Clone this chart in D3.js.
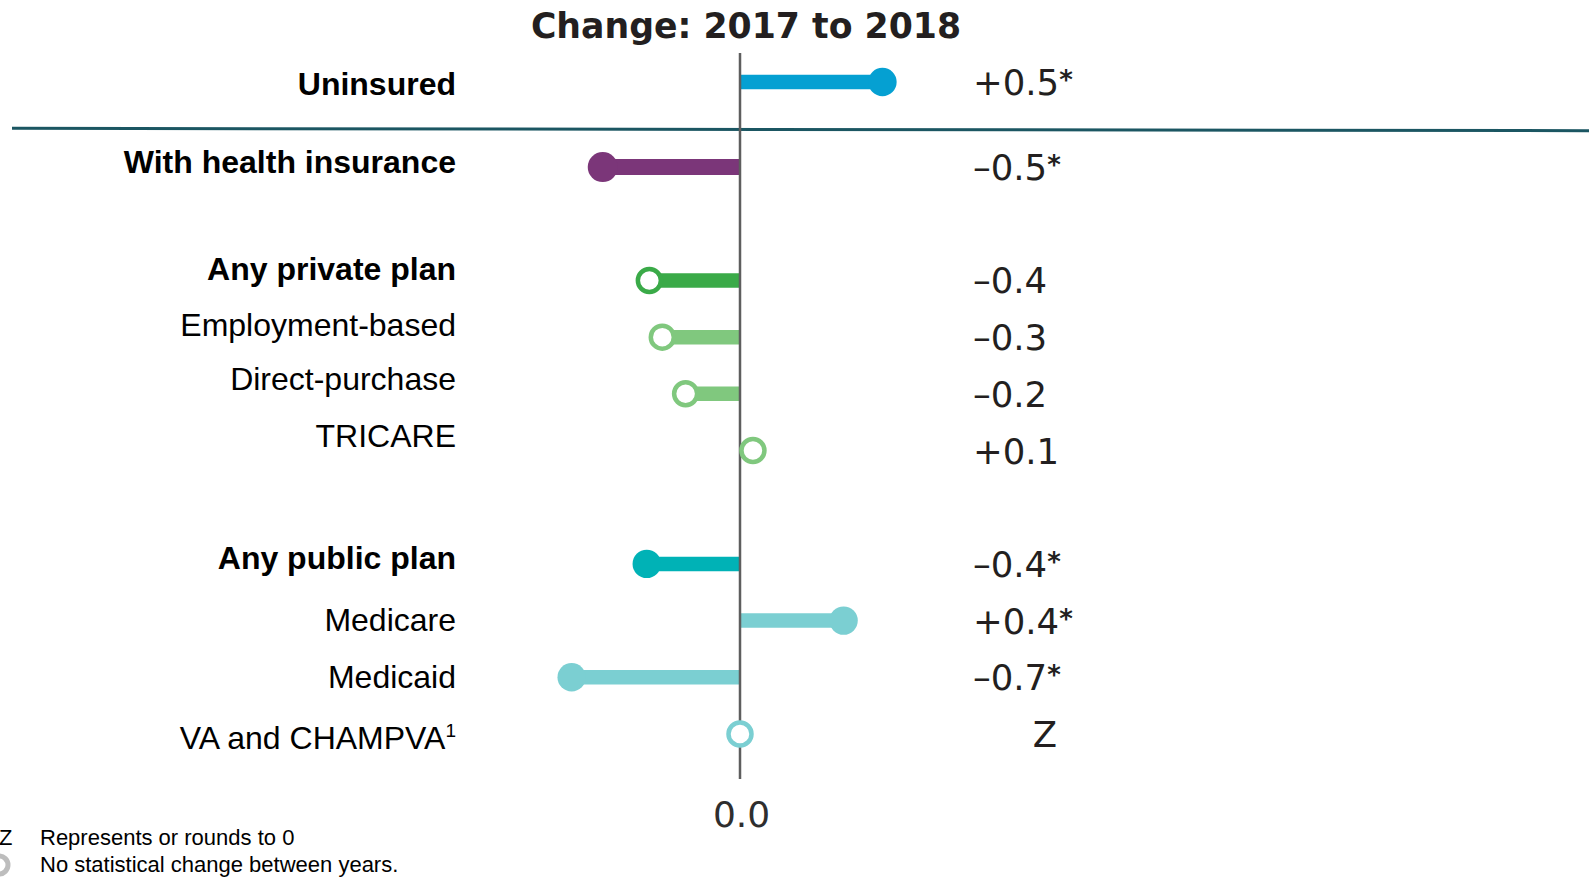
<!DOCTYPE html>
<html>
<head>
<meta charset="utf-8">
<script src="https://cdn.jsdelivr.net/npm/d3@7"></script>
<style>
  html, body { margin: 0; padding: 0; background: #ffffff; overflow: hidden; }
  svg { display: block; }
</style>
</head>
<body>
<svg id="chart" width="1589" height="877"></svg>
<script>
// ---------------- DATA ----------------
const title = "Change: 2017 to 2018";
const categories = ["Uninsured", "With health insurance", "Any private plan", "Employment-based",
  "Direct-purchase", "TRICARE", "Any public plan", "Medicare", "Medicaid", "VA and CHAMPVA"];
const categoryNotes = ["", "", "", "", "", "", "", "", "", "1"];
const changes = [0.55, -0.53, -0.35, -0.30, -0.21, 0.05, -0.36, 0.40, -0.65, 0.0];
const changeLabels = ["+0.5", "–0.5", "–0.4", "–0.3", "–0.2", "+0.1", "–0.4", "+0.4", "–0.7", "Z"];
const significant = [true, true, false, false, false, false, true, true, true, false];
const headerRows = [true, true, true, false, false, false, true, false, false, false];
const rowSlots = [0, 1.5, 3.5, 4.5, 5.5, 6.5, 8.5, 9.5, 10.5, 11.5];
const axisTicks = [0];
const footnoteSymbols = ["Z", "○"];
const footnoteTexts = ["Represents or rounds to 0", "No statistical change between years."];

// ---------------- STYLE / LAYOUT ----------------
const colors = ["#05a0d2", "#7b3679", "#3aaa48", "#80c87e", "#80c87e", "#80c87e",
  "#00b2b6", "#7bcfd2", "#7bcfd2", "#7bcfd2"];
const labelNudge = [1, -6, -12, -13, -15, -15, -6, -1, -1, 3];

const svg = d3.select("#chart");
const x = d3.scaleLinear().domain([-1, 1]).range([481, 999]);
const y = d3.scaleLinear().domain([0, 11.5]).range([82, 734]);

const rows = categories.map((c, i) => ({
  name: c, note: categoryNotes[i], value: changes[i], label: changeLabels[i],
  sig: significant[i], header: headerRows[i], slot: rowSlots[i], color: colors[i],
  nudge: labelNudge[i]
}));

// Title
svg.append("text")
  .attr("x", 746).attr("y", 38)
  .attr("text-anchor", "middle")
  .attr("font-family", "'DejaVu Sans', sans-serif")
  .attr("font-weight", "bold")
  .attr("font-size", 34.7)
  .attr("fill", "#231f20")
  .text(title);

// Separator line
svg.append("line")
  .attr("x1", 12).attr("y1", 128.3)
  .attr("x2", 1589).attr("y2", 130.7)
  .attr("stroke", "#1b5662").attr("stroke-width", 3);

// Stems
svg.append("g").selectAll("line").data(rows).join("line")
  .attr("x1", x(0)).attr("x2", d => x(d.value))
  .attr("y1", d => y(d.slot)).attr("y2", d => y(d.slot))
  .attr("stroke", d => d.color)
  .attr("stroke-width", d => d.slot === 1.5 ? 16 : 14.5);

// Zero line
svg.append("line")
  .attr("x1", x(0)).attr("x2", x(0))
  .attr("y1", 53).attr("y2", 779)
  .attr("stroke", "#5e5e5e").attr("stroke-width", 2.5);

// Dots
svg.append("g").selectAll("circle").data(rows).join("circle")
  .attr("cx", d => x(d.value)).attr("cy", d => y(d.slot))
  .attr("r", d => d.sig ? (d.slot === 1.5 ? 15 : 14.2) : 11.5)
  .attr("fill", d => d.sig ? d.color : "#ffffff")
  .attr("stroke", d => d.sig ? "none" : d.color)
  .attr("stroke-width", d => d.sig ? 0 : 4.5);

// Category labels
const cat = svg.append("g").selectAll("text").data(rows).join("text")
  .attr("x", 456)
  .attr("y", d => y(d.slot) + d.nudge + 11.5)
  .attr("text-anchor", "end")
  .attr("font-family", "'Liberation Sans', Arial, sans-serif")
  .attr("font-weight", d => d.header ? "bold" : "normal")
  .attr("font-size", 32)
  .attr("fill", "#000000");
cat.append("tspan").text(d => d.name);
cat.filter(d => d.note).append("tspan")
  .attr("font-size", 19).attr("dy", -12)
  .text(d => d.note);

// Value labels
const val = svg.append("g").selectAll("text").data(rows).join("text")
  .attr("x", d => d.label === "Z" ? 1045 : 973)
  .attr("y", d => y(d.slot) + 13)
  .attr("text-anchor", d => d.label === "Z" ? "middle" : "start")
  .attr("font-family", "'DejaVu Sans', sans-serif")
  .attr("font-size", 35.5)
  .attr("fill", "#231f20");
val.append("tspan").text(d => d.label);
val.filter(d => d.sig).append("tspan")
  .attr("font-size", 26).attr("font-weight", "bold").attr("dy", -6)
  .text("*");

// Axis (0.0)
const axis = d3.axisBottom(x).tickValues(axisTicks).tickSize(0).tickPadding(23)
  .tickFormat(d3.format(".1f"));
const ag = svg.append("g").attr("transform", "translate(1,778)").call(axis);
ag.select(".domain").remove();
ag.selectAll("text")
  .attr("font-family", "'DejaVu Sans', sans-serif")
  .attr("font-size", 36)
  .attr("fill", "#2e2e2e");

// Footnotes
svg.append("text")
  .attr("x", -1).attr("y", 845)
  .attr("font-family", "'Liberation Sans', Arial, sans-serif")
  .attr("font-size", 22).attr("fill", "#000")
  .text(footnoteSymbols[0]);
svg.append("circle")
  .attr("cx", -1).attr("cy", 865).attr("r", 9)
  .attr("fill", "#ffffff").attr("stroke", "#bdbdbd").attr("stroke-width", 5);
svg.append("g").selectAll("text").data(footnoteTexts).join("text")
  .attr("x", 40).attr("y", (d, i) => 845 + i * 27)
  .attr("font-family", "'Liberation Sans', Arial, sans-serif")
  .attr("font-size", 22).attr("fill", "#000")
  .text(d => d);
</script>
</body>
</html>
